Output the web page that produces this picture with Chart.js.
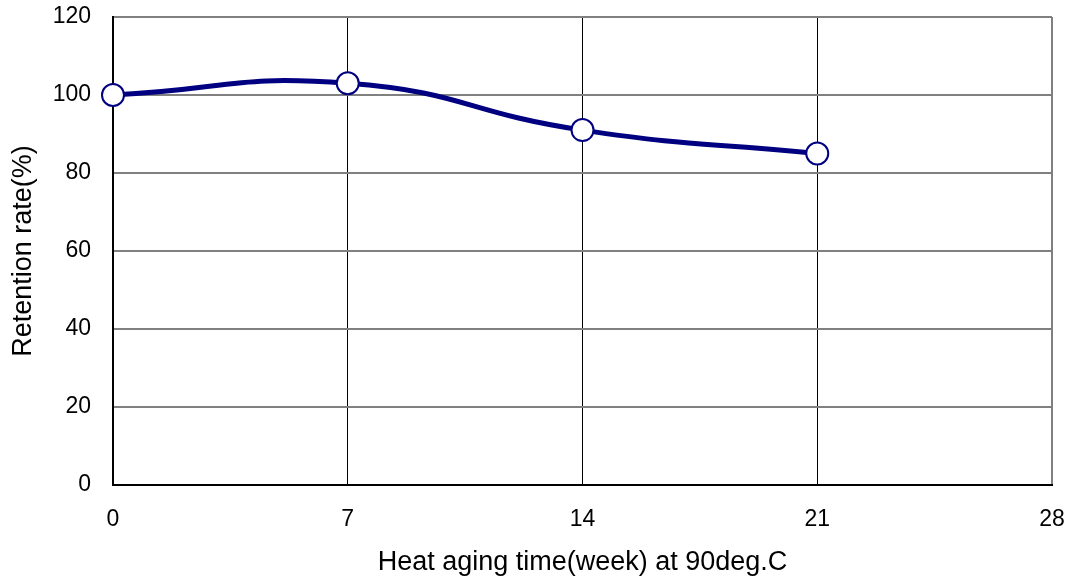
<!DOCTYPE html>
<html>
<head>
<meta charset="utf-8">
<script src="https://cdn.jsdelivr.net/npm/chart.js@4/dist/chart.umd.min.js"></script>
<style>
  html, body { margin: 0; padding: 0; background: #fff; }
  #wrap { width: 1074px; height: 579px; position: relative; }
</style>
</head>
<body>
<div id="wrap"><canvas id="c"></canvas></div>
<script>
const weeks = [0, 7, 14, 21];
const retention = [100, 103, 91, 85];
const xTicks = [0, 7, 14, 21, 28];
const yTicks = [0, 20, 40, 60, 80, 100, 120];
const xTitle = 'Heat aging time(week) at 90deg.C';
const yTitle = 'Retention rate(%)';

const points = weeks.map((w, i) => ({ x: w, y: retention[i] }));
const FONT = '"Liberation Sans", Arial, sans-serif';

new Chart(document.getElementById('c'), {
  type: 'line',
  data: {
    datasets: [{
      data: points,
      borderColor: '#000080',
      borderWidth: 5,
      tension: 0.5,
      pointRadius: 11,
      pointHoverRadius: 11,
      pointBackgroundColor: '#ffffff',
      pointBorderColor: '#000080',
      pointBorderWidth: 2,
      clip: false
    }]
  },
  options: {
    responsive: true,
    maintainAspectRatio: false,
    animation: false,
    layout: { padding: { top: 17, right: 22, left: 0, bottom: 0 } },
    plugins: { legend: { display: false }, tooltip: { enabled: false } },
    scales: {
      x: {
        type: 'linear',
        min: 0, max: 28,
        afterBuildTicks: s => { s.ticks = xTicks.map(v => ({ value: v })); },
        afterFit: s => { s.height = 94; s.paddingLeft = 0; s.paddingRight = 0; },
        grid: {
          drawTicks: false,
          color: ctx => (ctx.tick && ctx.tick.value === 28) ? '#808080' : '#000000',
          lineWidth: ctx => (ctx.tick && ctx.tick.value === 28) ? 2 : 1
        },
        border: { display: true, color: '#000000', width: 2 },
        ticks: { padding: 21, color: '#000', font: { family: FONT, size: 23 }, maxRotation: 0 },
        title: { display: true, text: xTitle, color: '#000', font: { family: FONT, size: 27 }, padding: { top: 0, bottom: 0 } }
      },
      y: {
        min: 0, max: 120,
        afterBuildTicks: s => { s.ticks = yTicks.map(v => ({ value: v })); },
        afterFit: s => { s.width = 113; s.paddingTop = 0; s.paddingBottom = 0; },
        grid: { drawTicks: false, color: '#808080', lineWidth: 2 },
        border: { display: true, color: '#000000', width: 2 },
        ticks: { padding: 22, color: '#000', font: { family: FONT, size: 23 } },
        title: { display: true, text: yTitle, color: '#000', font: { family: FONT, size: 27 }, padding: { top: 7, bottom: 0 } }
      }
    }
  }
});
</script>
</body>
</html>
